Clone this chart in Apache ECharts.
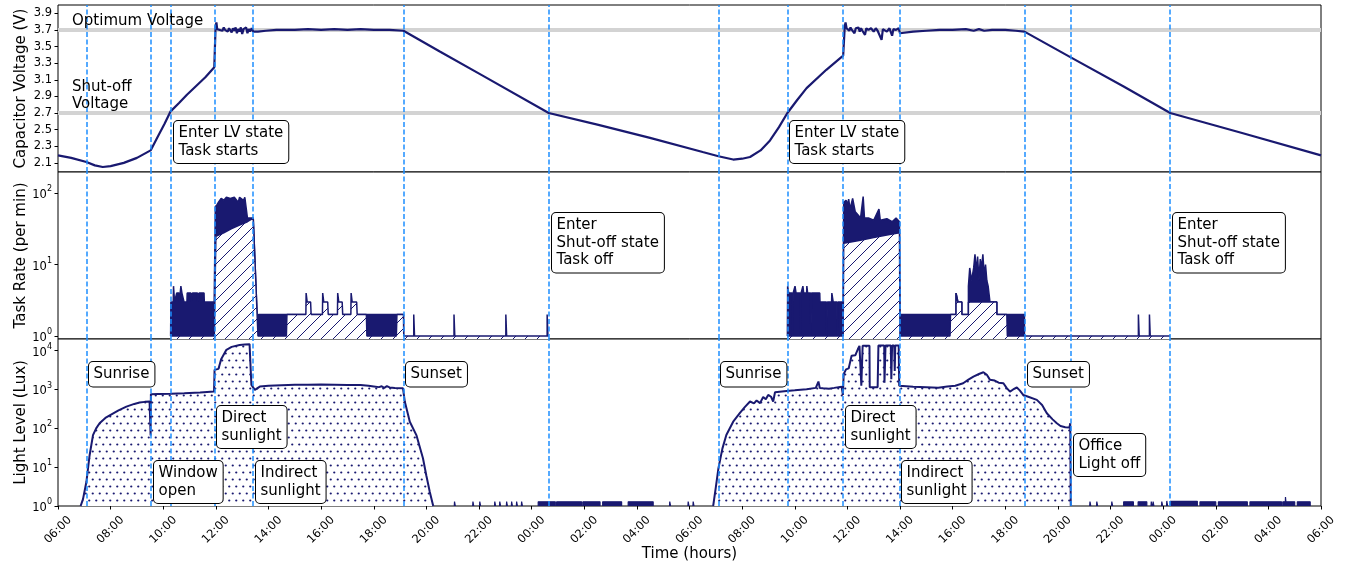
<!DOCTYPE html>
<html>
<head>
<meta charset="utf-8">
<script src="https://cdn.jsdelivr.net/npm/echarts/dist/echarts.min.js"></script>
<style>
html, body { margin: 0; padding: 0; background: #fff; }
#chart { width: 1348px; height: 567px; }
</style>
</head>
<body>
<div id="chart"></div>
<script>
// x values are hours counted from 00:00 of the first day (axis 06:00 -> 06:00 two days later)
const eventHours = [7.08, 9.52, 10.28, 11.94, 13.40, 19.13, 24.65, 31.1, 33.72, 35.84, 38.0, 42.73, 44.49, 48.27]
const optimumVoltage = 3.7
const shutoffVoltage = 2.7
const voltTicks = [2.1, 2.3, 2.5, 2.7, 2.9, 3.1, 3.3, 3.5, 3.7, 3.9]

const volt = [
  [6.0, 2.19], [6.5, 2.16], [7.08, 2.11], [7.4, 2.07], [7.7, 2.05], [8.0, 2.06], [8.5, 2.10], [9.0, 2.16],
  [9.52, 2.25], [9.8, 2.42], [10.05, 2.57], [10.28, 2.72], [10.6, 2.82], [10.9, 2.92], [11.3, 3.04], [11.6, 3.13], [11.94, 3.25],
  [11.99, 3.75], [12.02, 3.79], [12.05, 3.71], [12.1, 3.73], [12.15, 3.70], [12.2, 3.72], [12.25, 3.69], [12.3, 3.73],
  [12.35, 3.70], [12.4, 3.72], [12.45, 3.68], [12.5, 3.72], [12.55, 3.70], [12.6, 3.67], [12.65, 3.72], [12.7, 3.69],
  [12.75, 3.73], [12.8, 3.66], [12.85, 3.71], [12.9, 3.68], [12.95, 3.73], [13.0, 3.65], [13.05, 3.71], [13.1, 3.69],
  [13.15, 3.73], [13.2, 3.66], [13.25, 3.71], [13.3, 3.68], [13.36, 3.72], [13.42, 3.68], [13.6, 3.68], [13.9, 3.69],
  [14.3, 3.70], [15.0, 3.70], [15.5, 3.71], [16.0, 3.70], [16.5, 3.71], [17.0, 3.70], [17.5, 3.71], [18.0, 3.70],
  [18.6, 3.70], [19.13, 3.69],
  [20.51, 3.44], [22.14, 3.15], [24.65, 2.70], [26.5, 2.56], [28.5, 2.40], [30.5, 2.23], [31.1, 2.18], [31.66, 2.14],
  [32.0, 2.15], [32.3, 2.17], [32.7, 2.25], [33.06, 2.37], [33.4, 2.53], [33.72, 2.70], [34.1, 2.86], [34.45, 3.00],
  [35.2, 3.22], [35.84, 3.39],
  [35.9, 3.74], [35.93, 3.79], [35.97, 3.72], [36.02, 3.74], [36.07, 3.69], [36.12, 3.73], [36.17, 3.70], [36.22, 3.72],
  [36.27, 3.66], [36.32, 3.72], [36.37, 3.70], [36.42, 3.73], [36.47, 3.68], [36.52, 3.72], [36.57, 3.69], [36.62, 3.71],
  [36.67, 3.64], [36.72, 3.72], [36.8, 3.70], [36.9, 3.72], [37.0, 3.68], [37.08, 3.72], [37.15, 3.69], [37.2, 3.71],
  [37.3, 3.58], [37.35, 3.71], [37.4, 3.73], [37.5, 3.68], [37.6, 3.72], [37.7, 3.63], [37.75, 3.71], [37.85, 3.70],
  [37.95, 3.72], [38.0, 3.66], [38.5, 3.68], [39.0, 3.69], [39.5, 3.70], [40.0, 3.70], [40.5, 3.71], [40.8, 3.69],
  [41.0, 3.71], [41.2, 3.69], [41.5, 3.70], [42.0, 3.70], [42.4, 3.69], [42.73, 3.68],
  [44.49, 3.37], [46.5, 3.02], [48.27, 2.70], [51.0, 2.46], [54.0, 2.19]
]

// task rate: upper envelope of the dense per-minute spikes (drawn solid)
const rateEnvelope = [
  [10.28, 1], [10.29, 3], [10.38, 3], [10.39, 5], [10.42, 5], [10.43, 3], [10.5, 3], [10.51, 4], [10.6, 4], [10.61, 3],
  [10.66, 3], [10.67, 5], [10.7, 5], [10.71, 4], [10.78, 4], [10.79, 3], [10.9, 3], [10.91, 4], [11.05, 4], [11.06, 3],
  [11.1, 3], [11.11, 4], [11.3, 4], [11.31, 3], [11.35, 3], [11.36, 4], [11.55, 4], [11.56, 3], [11.9, 3], [11.92, 1],
  [11.94, 1], [11.98, 65], [12.05, 70], [12.1, 75], [12.2, 85], [12.3, 80], [12.4, 88], [12.55, 85], [12.7, 88],
  [12.85, 75], [12.9, 88], [13.05, 80], [13.1, 88], [13.2, 45], [13.42, 45], [13.6, 1],
  [13.62, 2], [19.13, 2], [19.13, 1], [19.14, null],
  [33.72, 1], [33.73, 5], [33.76, 5], [33.77, 4], [33.9, 4], [33.91, 1], [33.93, 1], [33.94, 4], [34.0, 4], [34.01, 5],
  [34.04, 5], [34.05, 4], [34.2, 4], [34.21, 1], [34.23, 1], [34.24, 4], [34.3, 4], [34.31, 5], [34.33, 5], [34.34, 4],
  [34.45, 4], [34.46, 5], [34.48, 5], [34.49, 4], [34.6, 4], [34.61, 1], [34.63, 1], [34.64, 4], [34.95, 4], [34.96, 3],
  [35.2, 3], [35.21, 1], [35.23, 1], [35.24, 3], [35.4, 3], [35.41, 4], [35.45, 4], [35.46, 3], [35.6, 3], [35.61, 1],
  [35.63, 1], [35.64, 3], [35.84, 3],
  [35.86, 75], [35.95, 80], [36.0, 70], [36.05, 83], [36.1, 60], [36.2, 85], [36.3, 55], [36.4, 50], [36.5, 45],
  [36.6, 90], [36.65, 45], [36.8, 45], [37.0, 42], [37.2, 60], [37.25, 42], [37.5, 44], [37.7, 40], [37.85, 45],
  [37.98, 40], [38.0, 2], [40.13, 2], [40.13, 4], [40.2, 4], [40.2, 3], [40.35, 3], [40.35, 2], [40.6, 2], [40.6, 5],
  [40.65, 9], [40.72, 6], [40.8, 9], [40.85, 14], [40.9, 8], [40.95, 13], [41.0, 6], [41.05, 12], [41.1, 9], [41.15, 14],
  [41.2, 7], [41.25, 10], [41.3, 6], [41.35, 5], [41.42, 3], [41.68, 3], [41.68, 2], [42.73, 2], [42.73, 1], [42.74, null]
]

// task rate: hatched base level
const rateBase = [
  [10.28, 1], [11.94, 1], [12.0, 25], [12.3, 28], [12.6, 32], [12.9, 36], [13.2, 40], [13.42, 45], [13.6, 1],
  [14.68, 1], [14.7, 2], [15.42, 2], [15.43, 4], [15.46, 4], [15.47, 3], [15.6, 3], [15.62, 2], [16.05, 2], [16.06, 4],
  [16.09, 4], [16.1, 3], [16.25, 3], [16.27, 2], [16.62, 2], [16.63, 4], [16.66, 4], [16.67, 3], [16.8, 3], [16.82, 2],
  [17.13, 2], [17.14, 4], [17.17, 4], [17.18, 3], [17.35, 3], [17.37, 2], [17.72, 2], [17.74, 1], [18.86, 1], [18.88, 2],
  [19.13, 2], [19.14, 1], [19.52, 1], [19.52, 2], [19.55, 2], [19.55, 1], [21.05, 1], [21.05, 2], [21.08, 2], [21.08, 1],
  [23.02, 1], [23.02, 2], [23.05, 2], [23.05, 1], [24.59, 1], [24.59, 2], [24.62, 2], [24.62, 1], [24.65, 1], [24.66, null],
  [33.72, 1], [35.84, 1], [35.86, 20], [36.5, 22], [37.0, 24], [37.5, 26], [37.98, 28], [38.0, 1], [39.9, 1], [39.92, 2],
  [40.13, 2], [40.13, 4], [40.2, 4], [40.2, 3], [40.35, 3], [40.35, 2], [40.6, 2], [40.6, 3], [41.68, 3], [41.68, 2],
  [42.06, 2], [42.08, 1], [47.06, 1], [47.06, 2], [47.09, 2], [47.09, 1], [47.48, 1], [47.48, 2], [47.51, 2], [47.51, 1],
  [48.27, 1]
]

// light level (lux) during daylight
const light = [
  [6.86, 1], [6.95, 1.5], [7.08, 4.2], [7.2, 20], [7.33, 67], [7.45, 100], [7.58, 135], [7.8, 185], [8.0, 222],
  [8.3, 290], [8.6, 362], [8.9, 425], [9.1, 460], [9.3, 480], [9.48, 490], [9.51, 495], [9.52, 65], [9.53, 757],
  [9.8, 770], [10.3, 780], [10.8, 800], [11.4, 840], [11.93, 890], [11.95, 3200], [12.1, 3400], [12.2, 6000],
  [12.4, 10500], [12.6, 12500], [12.9, 14000], [13.1, 14500], [13.28, 14700], [13.33, 14700], [13.35, 1310],
  [13.48, 980], [13.67, 1190], [14.0, 1250], [14.5, 1290], [15.0, 1320], [15.5, 1330], [16.0, 1340], [16.5, 1330],
  [17.0, 1310], [17.5, 1300], [17.8, 1250], [18.0, 1200], [18.2, 1150], [18.3, 1210], [18.4, 1100], [18.5, 1220],
  [18.6, 1130], [18.8, 1100], [19.11, 1080], [19.18, 490], [19.37, 148], [19.62, 67], [19.87, 17], [20.0, 6],
  [20.13, 2.3], [20.26, 1], [20.27, null],
  [30.9, 1], [31.0, 3], [31.1, 9.4], [31.25, 30], [31.4, 67], [31.66, 148], [31.91, 245], [32.1, 350], [32.3, 490],
  [32.45, 440], [32.55, 520], [32.68, 445], [32.8, 640], [32.9, 560], [32.99, 725], [33.1, 650], [33.18, 490],
  [33.25, 850], [33.6, 900], [34.0, 950], [34.45, 1020], [34.8, 1100], [34.9, 1600], [34.95, 1100], [35.08, 1080],
  [35.3, 1050], [35.5, 1100], [35.78, 1180], [35.83, 725], [35.86, 2500], [35.95, 3300], [36.05, 3500], [36.16, 7400],
  [36.3, 7600], [36.4, 11000], [36.46, 13300], [36.52, 13300], [36.53, 1250], [36.57, 1250], [36.58, 13300],
  [36.84, 13300], [36.85, 1150], [37.15, 1150], [37.18, 13500], [37.4, 13500], [37.41, 1500], [37.44, 1500],
  [37.45, 13500], [37.65, 13500], [37.67, 1850], [37.7, 13500], [37.78, 13500], [37.8, 3000], [37.82, 13500],
  [37.95, 13500], [37.97, 1250], [38.0, 1310], [38.5, 1180], [39.0, 1150], [39.45, 1110], [39.8, 1200], [40.1, 1250],
  [40.4, 1450], [40.6, 1800], [40.79, 2150], [41.0, 2500], [41.17, 2770], [41.3, 2400], [41.42, 1770], [41.6, 1700],
  [41.75, 1500], [41.93, 1450], [42.05, 1100], [42.18, 880], [42.3, 1000], [42.44, 1125], [42.55, 950], [42.69, 720],
  [42.9, 640], [43.2, 540], [43.4, 400], [43.58, 245], [43.8, 170], [43.96, 135], [44.1, 115], [44.28, 107],
  [44.44, 105], [44.47, 135], [44.49, 1]
]

// sensor noise after dark: single blips [hour, lux] and runs [from, to, lux]
const nightBlips = [
  [21.07, 1.3], [21.77, 1.3], [22.03, 1.3], [22.6, 1.3], [22.79, 1.3], [23.05, 1.3], [23.24, 1.3], [23.43, 1.3],
  [23.62, 1.3], [29.25, 1.3], [29.95, 1.3], [30.14, 1.3],
  [45.22, 1.3], [45.48, 1.3], [46.05, 1.3], [47.55, 1.3], [47.62, 1.3], [47.95, 1.3], [48.14, 1.35], [52.65, 1.7]
]
const nightRuns = [
  [24.25, 24.9, 1.28], [24.95, 25.9, 1.28], [25.95, 26.6, 1.28], [26.7, 27.42, 1.28], [27.67, 28.62, 1.28],
  [46.5, 46.87, 1.28], [47.05, 47.38, 1.28], [48.27, 49.3, 1.32], [49.4, 50.0, 1.28], [50.1, 51.2, 1.28],
  [51.3, 52.5, 1.28], [52.55, 53.0, 1.28], [53.1, 53.59, 1.28]
]

const navy = '#191970'
const eventBlue = '#1e8fff'
const font = '"DejaVu Sans", sans-serif'

function hatchPattern() {
  const c = document.createElement('canvas')
  c.width = 12
  c.height = 12
  const g = c.getContext('2d')
  g.fillStyle = '#fff'
  g.fillRect(0, 0, 12, 12)
  g.strokeStyle = navy
  g.lineWidth = 1
  g.beginPath()
  g.moveTo(-1, 13); g.lineTo(13, -1)
  g.moveTo(-1, 1); g.lineTo(1, -1)
  g.moveTo(11, 13); g.lineTo(13, 11)
  g.stroke()
  return c
}

function dotPattern() {
  const c = document.createElement('canvas')
  c.width = 7
  c.height = 14
  const g = c.getContext('2d')
  g.fillStyle = '#fff'
  g.fillRect(0, 0, 7, 14)
  g.fillStyle = navy
  g.beginPath(); g.arc(1.75, 3.5, 1.1, 0, Math.PI * 2); g.fill()
  g.beginPath(); g.arc(5.25, 10.5, 1.1, 0, Math.PI * 2); g.fill()
  return c
}

function nightData() {
  const out = []
  nightBlips.forEach(b => {
    out.push([b[0] - 0.01, 1], [b[0], b[1]], [b[0] + 0.02, b[1]], [b[0] + 0.03, 1], [b[0] + 0.031, null])
  })
  nightRuns.forEach(r => {
    out.push([r[0], 1], [r[0], r[2]], [r[1], r[2]], [r[1], 1], [r[1] + 0.001, null])
  })
  return out
}

function hourLabel(v) {
  return String(v % 24).padStart(2, '0') + ':00'
}

function powLabel(v) {
  return '{b|10}{s|' + Math.round(Math.log10(v)) + '}'
}

const tickStyle = { show: true, length: 3.5, lineStyle: { color: '#000', width: 1 } }
const powRich = {
  b: { fontSize: 11.5, lineHeight: 16, verticalAlign: 'bottom', color: '#000', fontFamily: font },
  s: { fontSize: 8, lineHeight: 9, verticalAlign: 'top', color: '#000', fontFamily: font }
}
const nameStyle = { fontSize: 15, color: '#000', fontFamily: font }

function eventLines(i) {
  return {
    type: 'line', xAxisIndex: i, yAxisIndex: i, data: [], silent: true,
    markLine: {
      silent: true, animation: false, symbol: ['none', 'none'], label: { show: false },
      lineStyle: { color: eventBlue, type: [5, 2.5], width: 1.5 },
      data: eventHours.map(h => ({ xAxis: h }))
    }
  }
}

function box(text, left, top) {
  return {
    type: 'text', left: left, top: top, z: 100, silent: true,
    style: {
      text: text, font: '15px ' + font, fill: '#000', lineHeight: 17.5,
      backgroundColor: '#fff', borderColor: '#000', borderWidth: 1, borderRadius: 4,
      padding: [3.5, 5, 3.5, 4.5]
    }
  }
}

function plain(text, left, top) {
  return {
    type: 'text', left: left, top: top, z: 100, silent: true,
    style: { text: text, font: '15px ' + font, fill: '#000', lineHeight: 17.5 }
  }
}

const chart = echarts.init(document.getElementById('chart'))
const gridBase = { left: 58, right: 27, height: 167, show: true, borderColor: '#000', borderWidth: 1, backgroundColor: '#fff' }
const xBase = { type: 'value', min: 6, max: 54, interval: 2, splitLine: { show: false }, axisLine: { show: false } }

chart.setOption({
  animation: false,
  textStyle: { fontFamily: font },
  grid: [
    Object.assign({ top: 5 }, gridBase),
    Object.assign({ top: 172 }, gridBase),
    Object.assign({ top: 339 }, gridBase)
  ],
  xAxis: [
    Object.assign({ gridIndex: 0, axisLabel: { show: false }, axisTick: { show: false } }, xBase),
    Object.assign({ gridIndex: 1, axisLabel: { show: false }, axisTick: { show: false } }, xBase),
    Object.assign({
      gridIndex: 2,
      name: 'Time (hours)', nameLocation: 'middle', nameGap: 41, nameMoveOverlap: false,
      nameTextStyle: nameStyle,
      axisTick: tickStyle,
      axisLabel: {
        rotate: 45, fontSize: 11.5, color: '#000', margin: 24,
        align: 'center', verticalAlign: 'middle', formatter: hourLabel
      }
    }, xBase)
  ],
  yAxis: [
    {
      gridIndex: 0, type: 'value', min: 1.99, max: 4.0,
      name: 'Capacitor Voltage (V)', nameLocation: 'middle', nameGap: 29, nameMoveOverlap: false,
      nameTextStyle: nameStyle,
      splitLine: { show: false }, axisLine: { show: false },
      axisTick: Object.assign({ customValues: voltTicks }, tickStyle),
      axisLabel: { customValues: voltTicks, fontSize: 11.5, color: '#000', margin: 6, formatter: v => v.toFixed(1) }
    },
    {
      gridIndex: 1, type: 'log', min: 0.908, max: 199,
      name: 'Task Rate (per min)', nameLocation: 'middle', nameGap: 29, nameMoveOverlap: false,
      nameTextStyle: nameStyle,
      splitLine: { show: false }, axisLine: { show: false }, axisTick: tickStyle,
      axisLabel: { showMinLabel: false, showMaxLabel: false, margin: 6, formatter: powLabel, rich: powRich }
    },
    {
      gridIndex: 2, type: 'log', min: 1, max: 19950,
      name: 'Light Level (Lux)', nameLocation: 'middle', nameGap: 29, nameMoveOverlap: false,
      nameTextStyle: nameStyle,
      splitLine: { show: false }, axisLine: { show: false }, axisTick: tickStyle,
      axisLabel: { showMaxLabel: false, margin: 6, formatter: powLabel, rich: powRich }
    }
  ],
  series: [
    {
      type: 'line', xAxisIndex: 0, yAxisIndex: 0, data: [], silent: true,
      markLine: {
        z: 1, silent: true, animation: false, symbol: ['none', 'none'], label: { show: false },
        lineStyle: { color: '#d3d3d3', type: 'solid', width: 4 },
        data: [{ yAxis: optimumVoltage }, { yAxis: shutoffVoltage }]
      }
    },
    {
      name: 'Voltage', type: 'line', xAxisIndex: 0, yAxisIndex: 0, z: 3,
      data: volt, showSymbol: false, symbol: 'none',
      lineStyle: { color: navy, width: 2.2 }
    },
    eventLines(0),
    {
      name: 'Rate peaks', type: 'line', xAxisIndex: 1, yAxisIndex: 1, z: 2,
      data: rateEnvelope, symbol: 'none', connectNulls: false,
      lineStyle: { color: navy, width: 1.5 },
      areaStyle: { color: navy, opacity: 1, origin: 'start' }
    },
    {
      name: 'Rate', type: 'line', xAxisIndex: 1, yAxisIndex: 1, z: 3,
      data: rateBase, symbol: 'none', connectNulls: false,
      lineStyle: { color: navy, width: 1.5 },
      areaStyle: { color: { image: hatchPattern(), repeat: 'repeat' }, opacity: 1, origin: 'start' }
    },
    eventLines(1),
    {
      name: 'Light', type: 'line', xAxisIndex: 2, yAxisIndex: 2, z: 2,
      data: light, symbol: 'none', connectNulls: false,
      lineStyle: { color: navy, width: 2 },
      areaStyle: { color: { image: dotPattern(), repeat: 'repeat' }, opacity: 1, origin: 'start' }
    },
    {
      name: 'Night', type: 'line', xAxisIndex: 2, yAxisIndex: 2, z: 2,
      data: nightData(), symbol: 'none', connectNulls: false,
      lineStyle: { color: navy, width: 1.2 },
      areaStyle: { color: navy, opacity: 1, origin: 'start' }
    },
    eventLines(2)
  ],
  graphic: [
    plain('Optimum Voltage', 72, 12),
    plain('Shut-off\nVoltage', 72, 78),
    box('Enter LV state\nTask starts', 173, 120),
    box('Enter LV state\nTask starts', 789, 120),
    box('Enter\nShut-off state\nTask off', 551, 212),
    box('Enter\nShut-off state\nTask off', 1172, 212),
    box('Sunrise', 88, 361),
    box('Window\nopen', 153, 460),
    box('Direct\nsunlight', 216, 405),
    box('Indirect\nsunlight', 255, 460),
    box('Sunset', 405, 361),
    box('Sunrise', 720, 361),
    box('Direct\nsunlight', 845, 405),
    box('Indirect\nsunlight', 901, 460),
    box('Sunset', 1027, 361),
    box('Office\nLight off', 1073, 433)
  ]
})
</script>
</body>
</html>
